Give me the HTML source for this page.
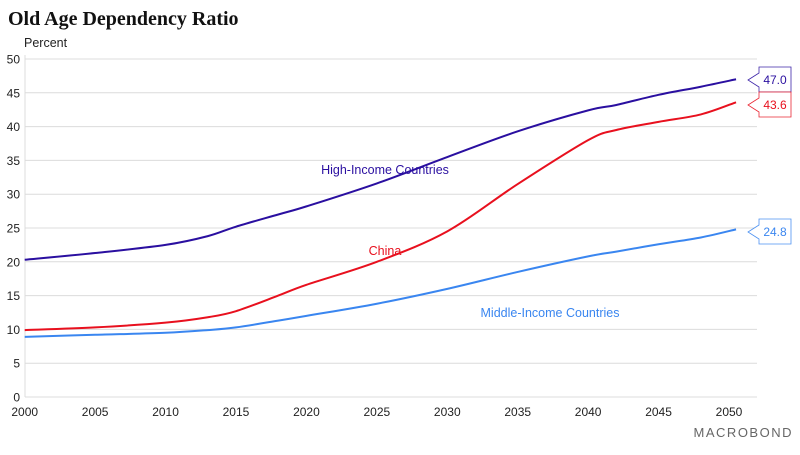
<!DOCTYPE html>
<html><head><meta charset="utf-8"><style>
body{margin:0;background:#fff;width:800px;height:450px;overflow:hidden}
svg text{font-family:"Liberation Sans",sans-serif}
</style></head><body>
<svg id="c" width="800" height="450">
<text x="8" y="25" font-family="Liberation Serif" font-weight="bold" font-size="20" fill="#111" style="font-family:'Liberation Serif',serif">Old Age Dependency Ratio</text>
<text x="24" y="47" font-size="12.5" fill="#222">Percent</text>
<text x="793" y="437" text-anchor="end" font-size="13" fill="#666" letter-spacing="1.5">MACROBOND</text>
<g id="grid"></g><g id="lines"></g><g id="tags"></g>
</svg>
<script>
const years=[2000,2005,2010,2013,2015,2018,2020,2025,2030,2035,2040,2042,2045,2048,2050.5];
const highIncome=[20.3,21.3,22.5,23.8,25.2,27.0,28.2,31.6,35.5,39.3,42.4,43.2,44.7,45.9,47.0];
const china=[9.9,10.3,11.0,11.8,12.7,15.0,16.6,20.0,24.5,31.5,38.0,39.5,40.7,41.8,43.6];
const middleIncome=[8.9,9.2,9.5,9.9,10.3,11.3,12.0,13.8,16.0,18.5,20.8,21.5,22.6,23.6,24.8];
const yTicks=[0,5,10,15,20,25,30,35,40,45,50];
const xTicks=[2000,2005,2010,2015,2020,2025,2030,2035,2040,2045,2050];
const NS="http://www.w3.org/2000/svg";
const X=v=>24.7+(v-2000)*(729-24.7)/50;
const Y=v=>397-v*(397-59)/50;
function mk(t,a,p){const e=document.createElementNS(NS,t);for(const k in a)e.setAttribute(k,a[k]);p.appendChild(e);return e;}
const g=document.getElementById('grid');
yTicks.forEach(v=>{
 const l=mk('line',{x1:25,x2:757,y1:Y(v),y2:Y(v),stroke:'#dcdcdc','stroke-width':1},g);
 
 
 const t=mk('text',{x:20,y:Y(v)+4.5,'text-anchor':'end','font-size':12,fill:'#222'},g);t.textContent=v;
 
 
});
mk('line',{x1:25,x2:25,y1:55,y2:397,stroke:'#dcdcdc'},g);
xTicks.forEach(v=>{
 const t=mk('text',{x:X(v),y:416,'text-anchor':'middle','font-size':12,fill:'#222'},g);t.textContent=v;
 
 
});
function path(vals){
 const p=years.map((y,i)=>[X(y),Y(vals[i])]);
 let d='M'+p[0][0]+','+p[0][1];
 for(let i=0;i<p.length-1;i++){
  const p0=p[i-1]||p[i],p1=p[i],p2=p[i+1],p3=p[i+2]||p2;
  const c1=[p1[0]+(p2[0]-p0[0])/6,p1[1]+(p2[1]-p0[1])/6];
  const c2=[p2[0]-(p3[0]-p1[0])/6,p2[1]-(p3[1]-p1[1])/6];
  d+=`C${c1[0]},${c1[1]} ${c2[0]},${c2[1]} ${p2[0]},${p2[1]}`;
 }
 return d;
}
const L=document.getElementById('lines'),T=document.getElementById('tags');
const series=[[highIncome,'#2a0fa0','high-income','High-Income Countries',385,174,80],[china,'#e8101e','china','China',385,255,105],[middleIncome,'#3a86f0','middle-income','Middle-Income Countries',550,317,232]];
series.forEach(s=>{
 const ln=mk('path',{d:path(s[0]),fill:'none',stroke:s[1],'stroke-width':2},L);
 
 
 const lb=mk('text',{x:s[4],y:s[5],'text-anchor':'middle','font-size':12.5,fill:s[1]},L);lb.textContent=s[3];
 
 
 const v=s[0][s[0].length-1],cy=s[6];
 const tg=mk('path',{d:`M748,${cy}L759,${cy-7}L759,${cy-13}L791,${cy-13}L791,${cy+12}L759,${cy+12}L759,${cy+7}Z`,fill:'#fff',stroke:s[1],'stroke-width':0.8,opacity:0.9},T);
 
 
 const vt=mk('text',{x:775,y:cy+4,'text-anchor':'middle','font-size':12,fill:s[1]},T);vt.textContent=v.toFixed(1);
 
 
});
</script>
</body></html>
